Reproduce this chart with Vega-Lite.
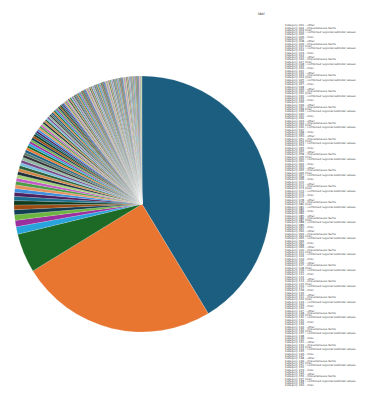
{
  "$schema": "https://vega.github.io/schema/vega-lite/v6.json",
  "padding": 0,
  "spacing": 0,
  "bounds": "flush",
  "background": "white",
  "config": {"view": {"stroke": null}},
  "data": {"values": [
    {"label": "Category 001 – other", "value": 41, "rank": 1},
    {"label": "Category 002 – miscellaneous items", "value": 24.7, "rank": 2},
    {"label": "Category 003 (n/a)", "value": 4.9, "rank": 3},
    {"label": "Category 004 – combined regional subtotal values", "value": 0.95, "rank": 4},
    {"label": "Category 005", "value": 0.8, "rank": 5},
    {"label": "Category 006 – misc", "value": 0.7, "rank": 6},
    {"label": "Category 007", "value": 0.62, "rank": 7},
    {"label": "Category 008 – other", "value": 0.58, "rank": 8},
    {"label": "Category 009 – miscellaneous items", "value": 0.55, "rank": 9},
    {"label": "Category 010 (n/a)", "value": 0.52, "rank": 10},
    {"label": "Category 011 – combined regional subtotal values", "value": 0.5, "rank": 11},
    {"label": "Category 012", "value": 0.48, "rank": 12},
    {"label": "Category 013 – misc", "value": 0.46, "rank": 13},
    {"label": "Category 014", "value": 0.44, "rank": 14},
    {"label": "Category 015 – other", "value": 0.42, "rank": 15},
    {"label": "Category 016 – miscellaneous items", "value": 0.41, "rank": 16},
    {"label": "Category 017 (n/a)", "value": 0.4, "rank": 17},
    {"label": "Category 018 – combined regional subtotal values", "value": 0.39, "rank": 18},
    {"label": "Category 019", "value": 0.38, "rank": 19},
    {"label": "Category 020 – misc", "value": 0.37, "rank": 20},
    {"label": "Category 021", "value": 0.36, "rank": 21},
    {"label": "Category 022 – other", "value": 0.35, "rank": 22},
    {"label": "Category 023 – miscellaneous items", "value": 0.34, "rank": 23},
    {"label": "Category 024 (n/a)", "value": 0.33, "rank": 24},
    {"label": "Category 025 – combined regional subtotal values", "value": 0.32, "rank": 25},
    {"label": "Category 026", "value": 0.31, "rank": 26},
    {"label": "Category 027 – misc", "value": 0.3, "rank": 27},
    {"label": "Category 028", "value": 0.29, "rank": 28},
    {"label": "Category 029 – other", "value": 0.28, "rank": 29},
    {"label": "Category 030 – miscellaneous items", "value": 0.27, "rank": 30},
    {"label": "Category 031 (n/a)", "value": 0.27, "rank": 31},
    {"label": "Category 032 – combined regional subtotal values", "value": 0.26, "rank": 32},
    {"label": "Category 033", "value": 0.26, "rank": 33},
    {"label": "Category 034 – misc", "value": 0.25, "rank": 34},
    {"label": "Category 035", "value": 0.25, "rank": 35},
    {"label": "Category 036 – other", "value": 0.24, "rank": 36},
    {"label": "Category 037 – miscellaneous items", "value": 0.24, "rank": 37},
    {"label": "Category 038 (n/a)", "value": 0.23, "rank": 38},
    {"label": "Category 039 – combined regional subtotal values", "value": 0.23, "rank": 39},
    {"label": "Category 040", "value": 0.22, "rank": 40},
    {"label": "Category 041 – misc", "value": 0.22, "rank": 41},
    {"label": "Category 042", "value": 0.21, "rank": 42},
    {"label": "Category 043 – other", "value": 0.21, "rank": 43},
    {"label": "Category 044 – miscellaneous items", "value": 0.2, "rank": 44},
    {"label": "Category 045 (n/a)", "value": 0.2, "rank": 45},
    {"label": "Category 046 – combined regional subtotal values", "value": 0.2, "rank": 46},
    {"label": "Category 047", "value": 0.19, "rank": 47},
    {"label": "Category 048 – misc", "value": 0.19, "rank": 48},
    {"label": "Category 049", "value": 0.19, "rank": 49},
    {"label": "Category 050 – other", "value": 0.18, "rank": 50},
    {"label": "Category 051 – miscellaneous items", "value": 0.18, "rank": 51},
    {"label": "Category 052 (n/a)", "value": 0.18, "rank": 52},
    {"label": "Category 053 – combined regional subtotal values", "value": 0.17, "rank": 53},
    {"label": "Category 054", "value": 0.17, "rank": 54},
    {"label": "Category 055 – misc", "value": 0.17, "rank": 55},
    {"label": "Category 056", "value": 0.17, "rank": 56},
    {"label": "Category 057 – other", "value": 0.16, "rank": 57},
    {"label": "Category 058 – miscellaneous items", "value": 0.16, "rank": 58},
    {"label": "Category 059 (n/a)", "value": 0.16, "rank": 59},
    {"label": "Category 060 – combined regional subtotal values", "value": 0.16, "rank": 60},
    {"label": "Category 061", "value": 0.15, "rank": 61},
    {"label": "Category 062 – misc", "value": 0.15, "rank": 62},
    {"label": "Category 063", "value": 0.15, "rank": 63},
    {"label": "Category 064 – other", "value": 0.15, "rank": 64},
    {"label": "Category 065 – miscellaneous items", "value": 0.15, "rank": 65},
    {"label": "Category 066 (n/a)", "value": 0.14, "rank": 66},
    {"label": "Category 067 – combined regional subtotal values", "value": 0.14, "rank": 67},
    {"label": "Category 068", "value": 0.14, "rank": 68},
    {"label": "Category 069 – misc", "value": 0.14, "rank": 69},
    {"label": "Category 070", "value": 0.14, "rank": 70},
    {"label": "Category 071 – other", "value": 0.14, "rank": 71},
    {"label": "Category 072 – miscellaneous items", "value": 0.13, "rank": 72},
    {"label": "Category 073 (n/a)", "value": 0.13, "rank": 73},
    {"label": "Category 074 – combined regional subtotal values", "value": 0.13, "rank": 74},
    {"label": "Category 075", "value": 0.13, "rank": 75},
    {"label": "Category 076 – misc", "value": 0.13, "rank": 76},
    {"label": "Category 077", "value": 0.13, "rank": 77},
    {"label": "Category 078 – other", "value": 0.12, "rank": 78},
    {"label": "Category 079 – miscellaneous items", "value": 0.12, "rank": 79},
    {"label": "Category 080 (n/a)", "value": 0.12, "rank": 80},
    {"label": "Category 081 – combined regional subtotal values", "value": 0.11, "rank": 81},
    {"label": "Category 082", "value": 0.11, "rank": 82},
    {"label": "Category 083 – misc", "value": 0.11, "rank": 83},
    {"label": "Category 084", "value": 0.11, "rank": 84},
    {"label": "Category 085 – other", "value": 0.11, "rank": 85},
    {"label": "Category 086 – miscellaneous items", "value": 0.11, "rank": 86},
    {"label": "Category 087 (n/a)", "value": 0.11, "rank": 87},
    {"label": "Category 088 – combined regional subtotal values", "value": 0.11, "rank": 88},
    {"label": "Category 089", "value": 0.11, "rank": 89},
    {"label": "Category 090 – misc", "value": 0.11, "rank": 90},
    {"label": "Category 091", "value": 0.11, "rank": 91},
    {"label": "Category 092 – other", "value": 0.11, "rank": 92},
    {"label": "Category 093 – miscellaneous items", "value": 0.11, "rank": 93},
    {"label": "Category 094 (n/a)", "value": 0.11, "rank": 94},
    {"label": "Category 095 – combined regional subtotal values", "value": 0.11, "rank": 95},
    {"label": "Category 096", "value": 0.11, "rank": 96},
    {"label": "Category 097 – misc", "value": 0.11, "rank": 97},
    {"label": "Category 098", "value": 0.11, "rank": 98},
    {"label": "Category 099 – other", "value": 0.11, "rank": 99},
    {"label": "Category 100 – miscellaneous items", "value": 0.11, "rank": 100},
    {"label": "Category 101 (n/a)", "value": 0.1, "rank": 101},
    {"label": "Category 102 – combined regional subtotal values", "value": 0.1, "rank": 102},
    {"label": "Category 103", "value": 0.1, "rank": 103},
    {"label": "Category 104 – misc", "value": 0.1, "rank": 104},
    {"label": "Category 105", "value": 0.1, "rank": 105},
    {"label": "Category 106 – other", "value": 0.1, "rank": 106},
    {"label": "Category 107 – miscellaneous items", "value": 0.1, "rank": 107},
    {"label": "Category 108 (n/a)", "value": 0.1, "rank": 108},
    {"label": "Category 109 – combined regional subtotal values", "value": 0.1, "rank": 109},
    {"label": "Category 110", "value": 0.1, "rank": 110},
    {"label": "Category 111 – misc", "value": 0.1, "rank": 111},
    {"label": "Category 112", "value": 0.1, "rank": 112},
    {"label": "Category 113 – other", "value": 0.1, "rank": 113},
    {"label": "Category 114 – miscellaneous items", "value": 0.1, "rank": 114},
    {"label": "Category 115 (n/a)", "value": 0.1, "rank": 115},
    {"label": "Category 116 – combined regional subtotal values", "value": 0.1, "rank": 116},
    {"label": "Category 117", "value": 0.1, "rank": 117},
    {"label": "Category 118 – misc", "value": 0.1, "rank": 118},
    {"label": "Category 119", "value": 0.1, "rank": 119},
    {"label": "Category 120 – other", "value": 0.1, "rank": 120},
    {"label": "Category 121 – miscellaneous items", "value": 0.09, "rank": 121},
    {"label": "Category 122 (n/a)", "value": 0.09, "rank": 122},
    {"label": "Category 123 – combined regional subtotal values", "value": 0.09, "rank": 123},
    {"label": "Category 124", "value": 0.09, "rank": 124},
    {"label": "Category 125 – misc", "value": 0.09, "rank": 125},
    {"label": "Category 126", "value": 0.09, "rank": 126},
    {"label": "Category 127 – other", "value": 0.09, "rank": 127},
    {"label": "Category 128 – miscellaneous items", "value": 0.09, "rank": 128},
    {"label": "Category 129 (n/a)", "value": 0.09, "rank": 129},
    {"label": "Category 130 – combined regional subtotal values", "value": 0.09, "rank": 130},
    {"label": "Category 131", "value": 0.09, "rank": 131},
    {"label": "Category 132 – misc", "value": 0.09, "rank": 132},
    {"label": "Category 133", "value": 0.09, "rank": 133},
    {"label": "Category 134 – other", "value": 0.09, "rank": 134},
    {"label": "Category 135 – miscellaneous items", "value": 0.09, "rank": 135},
    {"label": "Category 136 (n/a)", "value": 0.09, "rank": 136},
    {"label": "Category 137 – combined regional subtotal values", "value": 0.09, "rank": 137},
    {"label": "Category 138", "value": 0.09, "rank": 138},
    {"label": "Category 139 – misc", "value": 0.09, "rank": 139},
    {"label": "Category 140", "value": 0.09, "rank": 140},
    {"label": "Category 141 – other", "value": 0.08, "rank": 141},
    {"label": "Category 142 – miscellaneous items", "value": 0.08, "rank": 142},
    {"label": "Category 143 (n/a)", "value": 0.08, "rank": 143},
    {"label": "Category 144 – combined regional subtotal values", "value": 0.08, "rank": 144},
    {"label": "Category 145", "value": 0.08, "rank": 145},
    {"label": "Category 146 – misc", "value": 0.08, "rank": 146},
    {"label": "Category 147", "value": 0.08, "rank": 147},
    {"label": "Category 148 – other", "value": 0.08, "rank": 148},
    {"label": "Category 149 – miscellaneous items", "value": 0.08, "rank": 149},
    {"label": "Category 150 (n/a)", "value": 0.08, "rank": 150},
    {"label": "Category 151 – combined regional subtotal values", "value": 0.08, "rank": 151},
    {"label": "Category 152", "value": 0.08, "rank": 152},
    {"label": "Category 153 – misc", "value": 0.08, "rank": 153},
    {"label": "Category 154", "value": 0.08, "rank": 154},
    {"label": "Category 155 – other", "value": 0.08, "rank": 155},
    {"label": "Category 156 – miscellaneous items", "value": 0.08, "rank": 156},
    {"label": "Category 157 (n/a)", "value": 0.08, "rank": 157},
    {"label": "Category 158 – combined regional subtotal values", "value": 0.08, "rank": 158},
    {"label": "Category 159", "value": 0.08, "rank": 159},
    {"label": "Category 160 – misc", "value": 0.08, "rank": 160}
  ]},
  "hconcat": [
    {
      "width": 284,
      "height": 408,
      "mark": {"type": "arc", "outerRadius": 128, "stroke": "white", "strokeWidth": 0.15},
      "encoding": {
        "theta": {"field": "value", "type": "quantitative", "stack": true},
        "order": {"field": "rank", "type": "quantitative"},
        "color": {
          "field": "label",
          "type": "nominal",
          "sort": null,
          "legend": null,
          "scale": {"range": ["#1b5e80", "#e87530", "#1d6a26", "#29a3db", "#9c2f9e", "#6db541", "#103d51", "#9b4a12", "#0f3c1d", "#1a6d8e", "#4e1f5e", "#3e8ede", "#e6925e", "#4b9c45", "#c45ac8", "#9ed070", "#1e2f3a", "#d08848", "#2c5e36", "#76c1e0", "#7a4b8c", "#8fb8a0", "#333333", "#5a7a70"]}
        }
      }
    },
    {
      "width": 2,
      "height": 408,
      "title": {"text": "label", "anchor": "start", "fontSize": 3, "fontWeight": "normal", "color": "#333", "dx": -26, "offset": -16},
      "mark": {"type": "text", "align": "left", "baseline": "middle", "fontSize": 2.8, "font": "DejaVu Sans", "color": "#444"},
      "encoding": {
        "y": {"field": "label", "type": "ordinal", "sort": null, "axis": null, "scale": {"type": "point", "padding": 0, "range": [25, 385]}},
        "text": {"field": "label"}
      }
    }
  ]
}
